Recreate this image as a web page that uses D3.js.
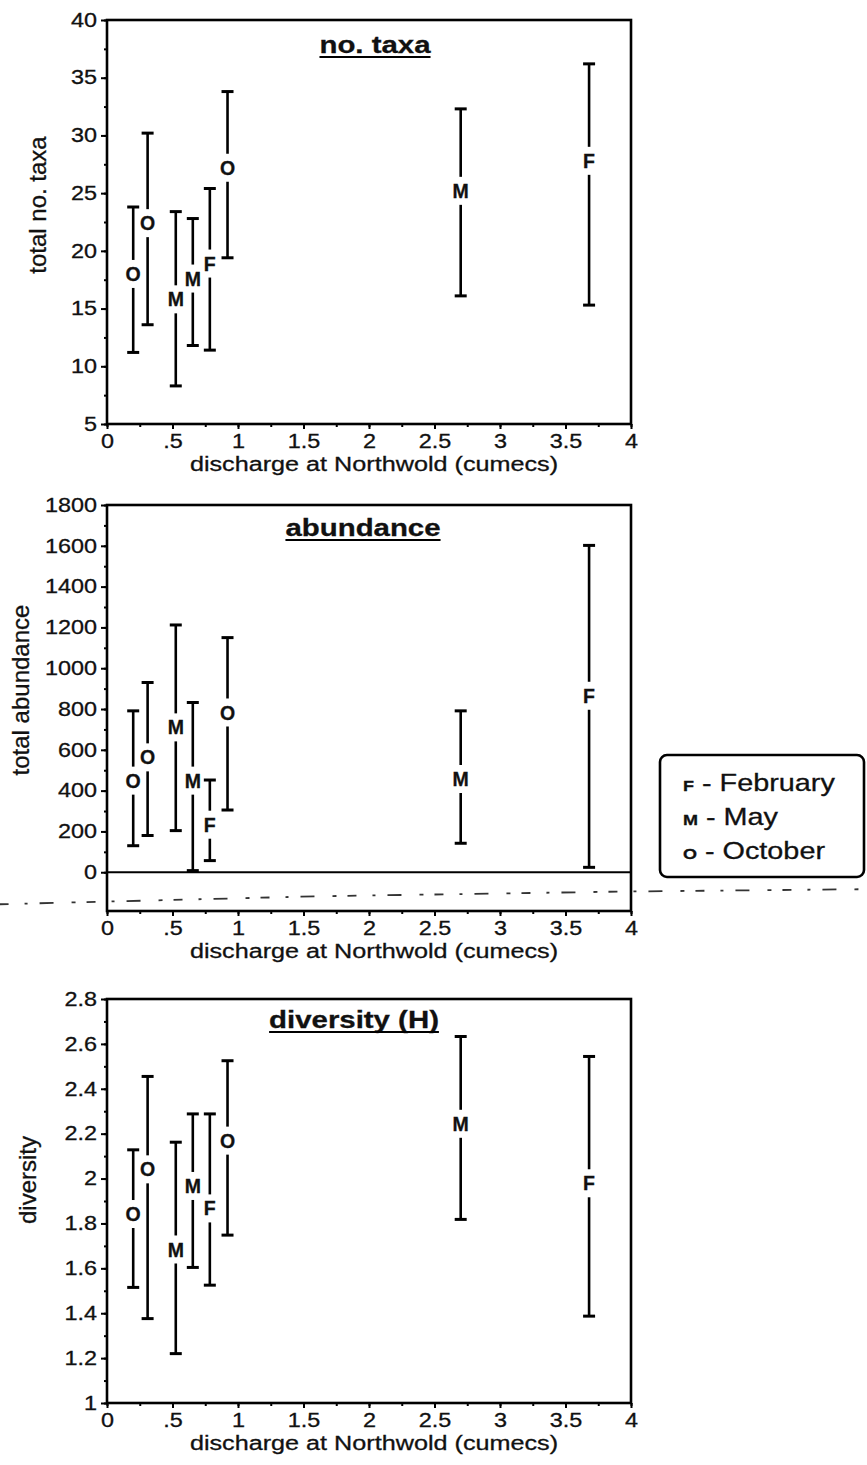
<!DOCTYPE html>
<html>
<head>
<meta charset="utf-8">
<script src="https://cdn.jsdelivr.net/npm/d3@7"></script>
<style>
  body { margin: 0; background: #fff; }
  text { font-family: "Liberation Sans", Arial, Helvetica, sans-serif; fill: #111; stroke: #111; stroke-width: 0.3px; }
</style>
</head>
<body>
<script>
// sampling occasions (shared by the three panels)
var discharge = [0.20, 0.31, 0.525, 0.655, 0.785, 0.92, 2.70, 3.68];
var month = ["O", "O", "M", "M", "F", "O", "M", "F"];

// no. taxa
var taxaMean = [18.0, 22.4, 15.8, 17.6, 18.9, 27.2, 25.2, 27.8];
var taxaHigh = [23.8, 30.2, 23.4, 22.8, 25.4, 33.8, 32.3, 36.2];
var taxaLow  = [11.2, 13.6, 8.3, 11.8, 11.4, 19.4, 16.1, 15.3];
var taxaTicks = [5, 10, 15, 20, 25, 30, 35, 40];

// abundance
var abundMean = [449, 563, 710, 449, 233, 783, 457, 865];
var abundHigh = [791, 930, 1212, 832, 452, 1150, 791, 1602];
var abundLow  = [130, 180, 204, 8, 57, 305, 142, 24];
var abundTicks = [0, 200, 400, 600, 800, 1000, 1200, 1400, 1600, 1800];

// diversity (H)
var divMean = [1.842, 2.041, 1.684, 1.967, 1.867, 2.169, 2.244, 1.979];
var divHigh = [2.128, 2.455, 2.162, 2.288, 2.288, 2.525, 2.633, 2.544];
var divLow  = [1.515, 1.376, 1.220, 1.604, 1.525, 1.748, 1.818, 1.387];
var divTicks = [1, 1.2, 1.4, 1.6, 1.8, 2, 2.2, 2.4, 2.6, 2.8];

var xTicks = [0, 0.5, 1, 1.5, 2, 2.5, 3, 3.5, 4];
var xTickLabels = ["0", ".5", "1", "1.5", "2", "2.5", "3", "3.5", "4"];

var legendCodes = ["F", "M", "O"];
var legendNames = ["February", "May", "October"];

(function(){
  var W = 867, H = 1465;
  var SX = 1.2;             // the scan is stretched sideways
  var LEFT = 107, RIGHT = 631;
  var FONT_TICK = 19.5, FONT_AXIS = 21, FONT_TITLE = 24.5, FONT_YT = 24;

  var svg = d3.select('body').append('svg')
    .attr('width', W).attr('height', H);

  var x = d3.scaleLinear().domain([0, 4]).range([LEFT, RIGHT]);

  // text stretched horizontally around its anchor point
  function wideText(g, px, py, str, size, anchor, weight){
    return g.append('text')
      .attr('transform', 'translate(' + px + ',' + py + ') scale(' + SX + ',1)')
      .attr('text-anchor', anchor || 'middle')
      .attr('font-size', size)
      .attr('font-weight', weight || 'normal')
      .text(str);
  }

  var panels = [
    { top: 20, bottom: 424, domain: [5, 40], ticks: taxaTicks, minor: 2.5,
      mean: taxaMean, high: taxaHigh, low: taxaLow,
      title: 'no. taxa', titleX: 375, titleY: 53,
      ylabel: 'total no. taxa', ylabelX: 46, ylabelY: 205 },
    { top: 505, bottom: 911, domain: [-190, 1800], ticks: abundTicks, minor: 100,
      mean: abundMean, high: abundHigh, low: abundLow, zeroLine: true,
      title: 'abundance', titleX: 363, titleY: 536,
      ylabel: 'total abundance', ylabelX: 29, ylabelY: 690 },
    { top: 999, bottom: 1403, domain: [1, 2.8], ticks: divTicks, minor: 0.1,
      mean: divMean, high: divHigh, low: divLow,
      title: 'diversity (H)', titleX: 354, titleY: 1028,
      ylabel: 'diversity', ylabelX: 36, ylabelY: 1180 }
  ];

  panels.forEach(function(p){
    var y = d3.scaleLinear().domain(p.domain).range([p.bottom, p.top]);
    var g = svg.append('g');
    var t0 = p.ticks[0], t1 = p.ticks[p.ticks.length - 1];

    // minor ticks
    var minorY = d3.range(t0, t1 + p.minor / 2, p.minor);
    g.append('g').attr('transform', 'translate(' + LEFT + ',0)')
      .call(d3.axisLeft(y).tickValues(minorY).tickSize(3).tickFormat(''))
      .call(function(a){ a.select('.domain').remove(); a.selectAll('line').attr('stroke-width', 2); });
    g.append('g').attr('transform', 'translate(0,' + p.bottom + ')')
      .call(d3.axisBottom(x).tickValues(d3.range(0, 4.01, 0.25)).tickSize(3).tickFormat(''))
      .call(function(a){ a.select('.domain').remove(); a.selectAll('line').attr('stroke-width', 2); });

    // major y ticks
    g.append('g').attr('transform', 'translate(' + LEFT + ',0)')
      .call(d3.axisLeft(y).tickValues(p.ticks).tickSize(6).tickPadding(4).tickFormat(d3.format('')))
      .call(function(a){
        a.select('.domain').remove();
        a.selectAll('line').attr('stroke-width', 2);
        a.selectAll('text')
          .attr('font-size', FONT_TICK).attr('fill', '#111')
          .attr('font-family', '"Liberation Sans", Arial, sans-serif')
          .attr('x', -10 / SX)
          .attr('transform', 'scale(' + SX + ',1)');
      });

    // major x ticks
    g.append('g').attr('transform', 'translate(0,' + p.bottom + ')')
      .call(d3.axisBottom(x).tickValues(xTicks).tickSize(5).tickPadding(5)
        .tickFormat(function(d, i){ return xTickLabels[i]; }))
      .call(function(a){
        a.select('.domain').remove();
        a.selectAll('line').attr('stroke-width', 2);
        a.selectAll('text')
          .attr('font-size', FONT_TICK).attr('fill', '#111')
          .attr('font-family', '"Liberation Sans", Arial, sans-serif')
          .attr('y', 10).attr('dy', '0.71em')
          .attr('transform', 'scale(' + SX + ',1)');
      });

    // frame
    g.append('rect')
      .attr('x', LEFT).attr('y', p.top)
      .attr('width', RIGHT - LEFT).attr('height', p.bottom - p.top)
      .attr('fill', 'none').attr('stroke', '#000').attr('stroke-width', 2.6);

    if (p.zeroLine) {
      g.append('line')
        .attr('x1', LEFT).attr('x2', RIGHT)
        .attr('y1', y(0)).attr('y2', y(0))
        .attr('stroke', '#000').attr('stroke-width', 2.2);
    }

    // error bars
    var idx = d3.range(discharge.length);
    var bars = g.append('g').selectAll('g').data(idx).enter().append('g');
    bars.append('line')
      .attr('x1', function(i){ return x(discharge[i]); })
      .attr('x2', function(i){ return x(discharge[i]); })
      .attr('y1', function(i){ return y(p.low[i]); })
      .attr('y2', function(i){ return y(p.high[i]); })
      .attr('stroke', '#000').attr('stroke-width', 2.6);
    ['low', 'high'].forEach(function(k){
      bars.append('line')
        .attr('x1', function(i){ return x(discharge[i]) - 6; })
        .attr('x2', function(i){ return x(discharge[i]) + 6; })
        .attr('y1', function(i){ return y(p[k][i]); })
        .attr('y2', function(i){ return y(p[k][i]); })
        .attr('stroke', '#000').attr('stroke-width', 3);
    });

    // month letters sit on the mean, blanking the bar behind them
    var labs = g.append('g').selectAll('g').data(idx).enter().append('g');
    labs.append('rect')
      .attr('x', function(i){ return x(discharge[i]) - 9; })
      .attr('y', function(i){ return y(p.mean[i]) - 14; })
      .attr('width', 18).attr('height', 28)
      .attr('fill', '#fff').attr('stroke', 'none');
    labs.append('text')
      .attr('x', function(i){ return x(discharge[i]); })
      .attr('y', function(i){ return y(p.mean[i]); })
      .attr('dy', '0.36em')
      .attr('text-anchor', 'middle')
      .attr('font-size', 19.5).attr('font-weight', 'bold')
      .text(function(i){ return month[i]; });

    // title, underlined
    var tt = wideText(g, p.titleX, p.titleY, p.title, FONT_TITLE, 'middle', 'bold');
    var tw = tt.node().getComputedTextLength() * SX;
    g.append('line')
      .attr('x1', p.titleX - tw / 2).attr('x2', p.titleX + tw / 2)
      .attr('y1', p.titleY + 4).attr('y2', p.titleY + 4)
      .attr('stroke', '#000').attr('stroke-width', 2);

    // axis titles
    wideText(g, (LEFT + RIGHT) / 2 + 5, p.bottom + 47, 'discharge at Northwold (cumecs)', FONT_AXIS);
    g.append('text')
      .attr('transform', 'translate(' + p.ylabelX + ',' + p.ylabelY + ') rotate(-90)')
      .attr('text-anchor', 'middle')
      .attr('font-size', FONT_YT)
      .text(p.ylabel);

    if (p.zeroLine) {
      // faint scanner streak under the zero line
      svg.append('path')
        .attr('d', d3.line()([[x(-0.82), y(-157)], [x(1.6), y(-118)], [x(3.9), y(-95)], [x(5.8), y(-83)]]))
        .attr('fill', 'none').attr('stroke', '#333').attr('stroke-width', 1.8)
        .attr('stroke-dasharray', '9 16 3 12 14 18 4 11');
    }
  });

  // legend
  var lg = svg.append('g');
  lg.append('rect')
    .attr('x', 660).attr('y', 755).attr('width', 204).attr('height', 122)
    .attr('rx', 7).attr('fill', '#fff').attr('stroke', '#000').attr('stroke-width', 2.6);
  legendCodes.forEach(function(c, i){
    var t = lg.append('text')
      .attr('transform', 'translate(683,' + (791 + i * 34) + ') scale(' + SX + ',1)')
      .attr('font-size', 24);
    t.append('tspan').attr('font-weight', 'bold').attr('font-size', 15).text(c);
    t.append('tspan').text(' - ' + legendNames[i]);
  });
})();
</script>
</body>
</html>
